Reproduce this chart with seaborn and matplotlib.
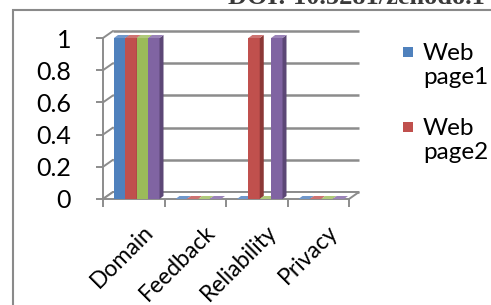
import matplotlib
matplotlib.use("Agg")
import matplotlib.pyplot as plt
import matplotlib.transforms as mtransforms
from matplotlib.patches import Polygon, Rectangle
import seaborn as sns
import pandas as pd

# data
categories = ["Domain", "Feedback", "Reliability", "Privacy"]
series = ["Web page1", "Web page2", "Web page3", "Web page4"]
page1 = [1, 0, 0, 0]
page2 = [1, 0, 1, 0]
page3 = [1, 0, 0, 0]
page4 = [1, 0, 1, 0]
legend_labels = ["Web\npage1", "Web\npage2"]
yticks = [0, 0.2, 0.4, 0.6, 0.8, 1]

colors = ["#4F81BD", "#C0504D", "#9BBB59", "#8064A2"]
side_colors = ["#385D8A", "#8C3836", "#71893F", "#5C4776"]
top_colors = ["#6F97CB", "#CD7371", "#AFC97A", "#9A83B8"]
grid_col = "#8C8C8C"

df = pd.DataFrame({
    "category": categories * 4,
    "series": [s for s in series for _ in categories],
    "value": page1 + page2 + page3 + page4,
})

sns.set_style("white")
plt.rcParams["font.family"] = ["Lato", "DejaVu Sans"]

W, H = 491, 305
fig = plt.figure(figsize=(W / 100, H / 100), dpi=100)
ax_l, ax_r, ax_t, ax_b = 103, 349, 38, 199
ax = fig.add_axes([ax_l / W, 1 - ax_b / H, (ax_r - ax_l) / W, (ax_b - ax_t) / H])

sns.barplot(data=df, x="category", y="value", hue="series", palette=colors,
            width=0.74, saturation=1, legend=False, ax=ax, zorder=3)
ax.set_xlim(-0.5, len(categories) - 0.5)
ax.set_ylim(0, 1)

# pixel -> data units
n_cat = len(categories)
px = n_cat / (ax_r - ax_l)
py = 1 / (ax_b - ax_t)
wdx, wdy = 10 * px, 7 * py      # wall depth
bdx, bdy = 4 * px, 3 * py       # bar depth
shift = 3 * px

# back wall gridlines + connectors
x0, x1 = -0.5, n_cat - 0.5
for y in yticks:
    ax.plot([x0 + wdx, x1 + wdx], [y + wdy, y + wdy], color=grid_col, lw=1.8,
            zorder=1, clip_on=False, solid_capstyle="butt")
    ax.plot([x0, x0 + wdx], [y, y + wdy], color=grid_col, lw=1.4, zorder=1, clip_on=False)
# floor
ax.add_patch(Polygon([(x0, 0), (x1, 0), (x1 + wdx, wdy), (x0 + wdx, wdy)], closed=True,
                     facecolor="white", edgecolor=grid_col, lw=1.4, zorder=1.5, clip_on=False))

# 3D faces for bars
bars = [q for q in ax.patches if isinstance(q, Rectangle)]
for i, p in enumerate(bars):
    s = i // n_cat
    z = 3 + s
    p.set_x(p.get_x() + shift)
    p.set_zorder(z)
    p.set_edgecolor("none")
    bx, bw, bh = p.get_x(), p.get_width(), p.get_height()
    ax.add_patch(Polygon([(bx + bw, 0), (bx + bw, bh), (bx + bw + bdx, bh + bdy), (bx + bw + bdx, bdy)],
                         closed=True, facecolor=side_colors[s], edgecolor="none", zorder=z, clip_on=False))
    ax.add_patch(Polygon([(bx, bh), (bx + bw, bh), (bx + bw + bdx, bh + bdy), (bx + bdx, bh + bdy)],
                         closed=True, facecolor=top_colors[s], edgecolor="none", zorder=z, clip_on=False))

# axes styling
for side in ["top", "right", "bottom"]:
    ax.spines[side].set_visible(False)
ax.spines["left"].set_color(grid_col)
ax.spines["left"].set_linewidth(1.4)
ax.set_yticks(yticks)
ax.set_yticklabels(["0", "0.2", "0.4", "0.6", "0.8", "1"])
ax.tick_params(axis="y", left=True, length=5, width=1.4, color=grid_col, pad=18,
               labelsize=18, labelcolor="black")
ax.set_xticks(range(n_cat))
ax.set_xticklabels(categories, rotation=45, ha="right", rotation_mode="anchor")
ax.set_xticks([k - 0.5 for k in range(n_cat + 1)], minor=True)
ax.tick_params(axis="x", which="major", length=0, pad=16, labelsize=16.5, labelcolor="black")
ax.tick_params(axis="x", which="minor", bottom=True, length=6, width=1.4, color=grid_col)
shift_lbl = mtransforms.ScaledTranslation(9 / 100, 0, fig.dpi_scale_trans)
for lbl in ax.get_xticklabels():
    lbl.set_transform(lbl.get_transform() + shift_lbl)
ax.set_xlabel("")
ax.set_ylabel("")
ax.grid(False)

# legend (only the visible entries)
for k, lab in enumerate(legend_labels):
    top = 47 + 75 * k
    fig.add_artist(Rectangle((403 / W, 1 - (top + 10) / H), 10 / W, 10 / H,
                             transform=fig.transFigure, facecolor=colors[k], edgecolor="none"))
    fig.text(423 / W, 1 - (top - 4) / H, lab, ha="left", va="top", fontsize=17.5,
             linespacing=1.2, color="black")

# outer frame and header
fig.add_artist(Rectangle((13 / W, -0.1), 1.2, 1 - 10 / H + 0.1, transform=fig.transFigure,
                         facecolor="none", edgecolor="#8A8A8A", lw=1.5))
fig.text(228 / W, 1 - 4 / H, "DOI: 10.5281/zenodo.1", ha="left", va="baseline",
         fontsize=19, fontweight="bold", family=["Liberation Serif"], color="#3A3A3A")

fig.savefig("out.png", dpi=100)
